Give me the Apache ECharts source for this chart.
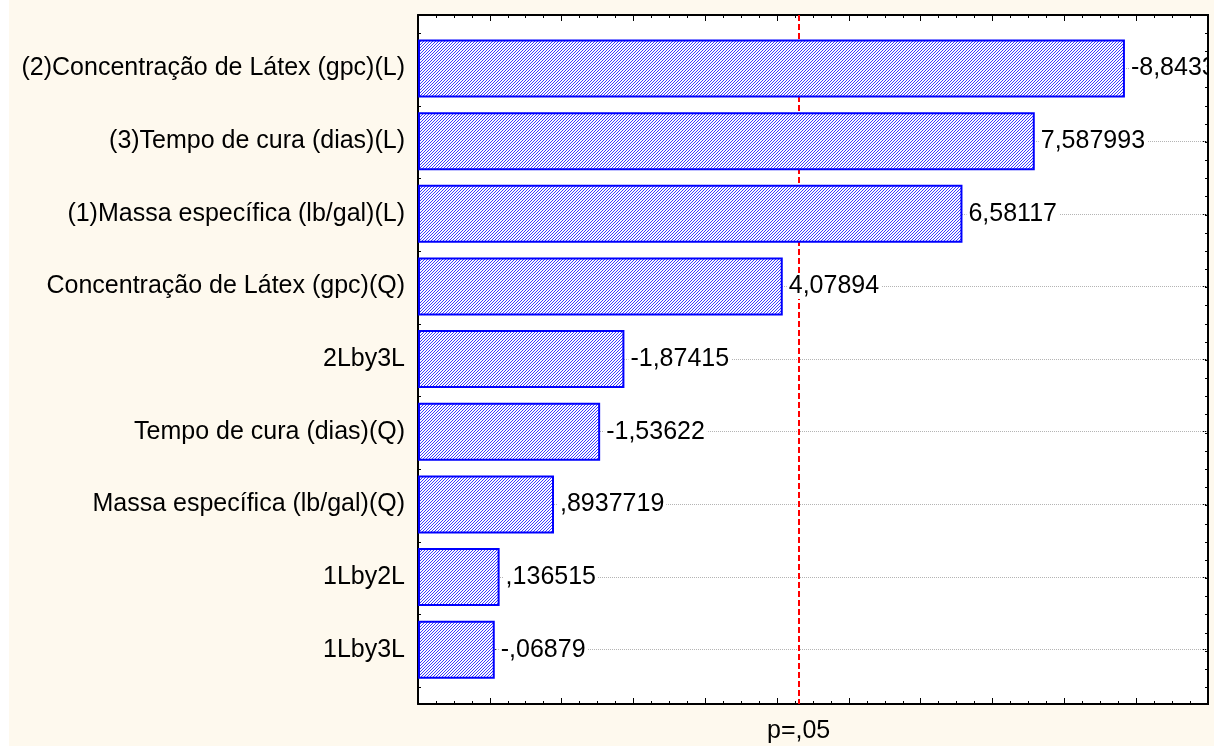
<!DOCTYPE html>
<html>
<head>
<meta charset="utf-8">
<script src="https://cdn.jsdelivr.net/npm/echarts@6/dist/echarts.min.js"></script>
<style>
  html, body { margin: 0; padding: 0; background: #fff; }
  #chart { width: 1214px; height: 747px; }
</style>
</head>
<body>
<div id="chart"></div>
<script>
const factors = [
  '(2)Concentração de Látex (gpc)(L)',
  '(3)Tempo de cura (dias)(L)',
  '(1)Massa específica (lb/gal)(L)',
  'Concentração de Látex (gpc)(Q)',
  '2Lby3L',
  'Tempo de cura (dias)(Q)',
  'Massa específica (lb/gal)(Q)',
  '1Lby2L',
  '1Lby3L'
]
const effects = [-8.8433, 7.587993, 6.58117, 4.07894, -1.87415, -1.53622, 0.8937719, 0.136515, -0.06879]
const effectLabels = ['-8,8433', '7,587993', '6,58117', '4,07894', '-1,87415', '-1,53622', ',8937719', ',136515', '-,06879']
const pLimit = 4.303
const pLabel = 'p=,05'

const font = 'Liberation Sans'
const fontSize = 25
const cream = '#fef9ee'

// hachura diagonal das barras
function hatch() {
  const c = document.createElement('canvas')
  c.width = 3
  c.height = 3
  const g = c.getContext('2d')
  g.fillStyle = '#fbfbff'
  g.fillRect(0, 0, 3, 3)
  g.fillStyle = '#3c3cff'
  for (let i = 0; i < 3; i++) g.fillRect(i, 2 - i, 1, 1)
  return c
}

const frameX = pos => ({
  gridIndex: 0, type: 'value', min: -1, max: 10, interval: 1, position: pos,
  axisLine: { show: true, onZero: false, lineStyle: { color: '#000', width: 2 } },
  axisTick: { show: true, inside: true, length: 6, lineStyle: { color: '#000' } },
  minorTick: { show: true, splitNumber: 4, length: 3, lineStyle: { color: '#000' } },
  axisLabel: { show: false },
  splitLine: { show: false },
  minorSplitLine: { show: false }
})
const frameY = pos => ({
  gridIndex: 0, type: 'value', inverse: true, min: 0, max: 9.48, interval: 0.25, position: pos,
  axisLine: { show: true, onZero: false, lineStyle: { color: '#000', width: 2 } },
  axisTick: { show: true, inside: true, length: 3, lineStyle: { color: '#000' } },
  axisLabel: { show: false },
  splitLine: { show: false }
})

const chart = echarts.init(document.getElementById('chart'))
chart.setOption({
  backgroundColor: cream,
  animation: false,
  grid: [
    { left: 418, right: 6, top: 15, bottom: 43, show: true, backgroundColor: '#fff', borderWidth: 0, outerBoundsMode: 'none' },
    { left: 418, right: 6, top: 32.2, bottom: 61, outerBoundsMode: 'none' }
  ],
  xAxis: [
    frameX('bottom'),
    frameX('top'),
    { gridIndex: 1, type: 'value', min: -1, max: 10, startValue: -1, show: false }
  ],
  yAxis: [
    frameY('left'),
    frameY('right'),
    {
      gridIndex: 1, type: 'category', inverse: true, data: factors, position: 'left',
      axisLine: { show: false },
      axisTick: { show: true, inside: true, alignWithLabel: true, length: 6, lineStyle: { color: '#000' } },
      axisLabel: { fontFamily: font, fontSize: fontSize, color: '#000', margin: 13 }
    },
    {
      gridIndex: 1, type: 'category', inverse: true, data: factors, position: 'right',
      axisLine: { show: false },
      axisTick: { show: true, inside: true, alignWithLabel: true, length: 6, lineStyle: { color: '#000' } },
      axisLabel: { show: false }
    }
  ],
  series: [
    {
      // linhas pontilhadas de cada efeito
      type: 'line', xAxisIndex: 2, yAxisIndex: 2, data: [], z: 1,
      markLine: {
        silent: true, symbol: 'none', z: 1, label: { show: false },
        lineStyle: { color: '#b4b4b4', type: 'dotted', width: 1 },
        data: factors.map(f => ({ yAxis: f }))
      }
    },
    {
      // limite p=,05
      type: 'line', xAxisIndex: 0, yAxisIndex: 0, data: [], z: 1,
      markLine: {
        silent: true, symbol: 'none', z: 1,
        lineStyle: { color: '#ff0000', type: [6, 3], width: 2 },
        label: { show: true, position: 'end', formatter: pLabel, fontFamily: font, fontSize: fontSize, color: '#000', distance: 15 },
        data: [{ xAxis: pLimit }]
      }
    },
    {
      type: 'bar', xAxisIndex: 2, yAxisIndex: 2, z: 3,
      data: effects.map(v => Math.abs(v)),
      barWidth: 58,
      itemStyle: { color: { image: hatch(), repeat: 'repeat' }, borderColor: '#0000ff', borderWidth: 2 },
      label: {
        show: true, position: 'right', distance: 4,
        formatter: p => effectLabels[p.dataIndex],
        fontFamily: font, fontSize: fontSize, color: '#000',
        backgroundColor: '#fff', padding: [0, 2]
      }
    }
  ],
  graphic: [
    { type: 'rect', left: 0, top: 0, shape: { width: 9, height: 747 }, style: { fill: '#fff' }, z: 0 },
    { type: 'rect', left: 0, top: 746, shape: { width: 1214, height: 1 }, style: { fill: '#fff' }, z: 0 },
    { type: 'rect', left: 1209, top: 0, shape: { width: 5, height: 746 }, style: { fill: cream }, z: 100 },
    { type: 'line', shape: { x1: 1208, y1: 14, x2: 1208, y2: 705 }, style: { stroke: '#000', lineWidth: 2 }, z: 100 }
  ]
})
</script>
</body>
</html>
